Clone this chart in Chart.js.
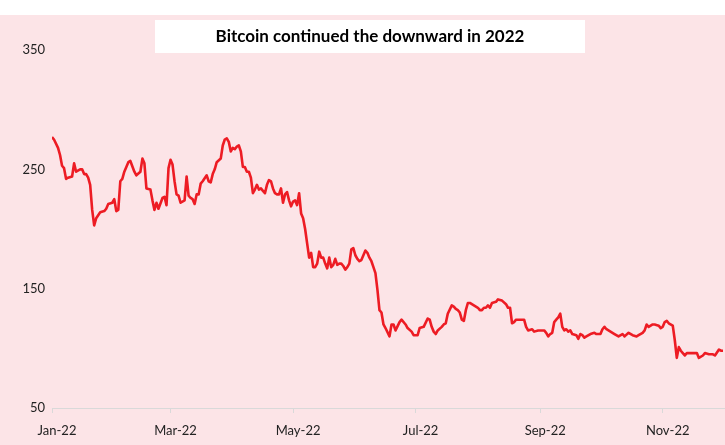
<!DOCTYPE html>
<html>
<head>
<meta charset="utf-8">
<script src="https://cdn.jsdelivr.net/npm/chart.js@4.4.1/dist/chart.umd.min.js"></script>
<style>
  body { margin: 0; background: #fff; }
  #chart { display: block; }
</style>
</head>
<body>
<canvas id="chart" width="725" height="445"></canvas>
<script>
const chartTitle = "Bitcoin continued the downward in 2022";

// tick positions on both axes
const tickDates = ["2022-01-01", "2022-03-01", "2022-05-01", "2022-07-01", "2022-09-01", "2022-11-01"];
const tickLabels = ["Jan-22", "Mar-22", "May-22", "Jul-22", "Sep-22", "Nov-22"];
const yTicks = [50, 150, 250, 350];

const dates = [
  "2022-01-01","2022-01-02","2022-01-04","2022-01-05","2022-01-06","2022-01-07","2022-01-08","2022-01-09","2022-01-11","2022-01-12",
  "2022-01-13","2022-01-15","2022-01-16","2022-01-17","2022-01-18","2022-01-19","2022-01-20","2022-01-21","2022-01-22","2022-01-23",
  "2022-01-25","2022-01-27","2022-01-28","2022-01-29","2022-01-31",
  "2022-02-01","2022-02-02","2022-02-03","2022-02-04","2022-02-05","2022-02-06","2022-02-08","2022-02-09","2022-02-11","2022-02-12",
  "2022-02-14","2022-02-15","2022-02-16","2022-02-17","2022-02-19","2022-02-20","2022-02-21","2022-02-22","2022-02-23","2022-02-25",
  "2022-02-26","2022-02-27","2022-02-28",
  "2022-03-01","2022-03-02","2022-03-03","2022-03-04","2022-03-05","2022-03-06","2022-03-08","2022-03-09","2022-03-10","2022-03-11",
  "2022-03-12","2022-03-13","2022-03-14","2022-03-15","2022-03-16","2022-03-17","2022-03-19","2022-03-20","2022-03-21","2022-03-22",
  "2022-03-23","2022-03-24","2022-03-26","2022-03-27","2022-03-28","2022-03-29","2022-03-30","2022-03-31",
  "2022-04-01","2022-04-02","2022-04-03","2022-04-04","2022-04-05","2022-04-06","2022-04-07","2022-04-08","2022-04-09","2022-04-10",
  "2022-04-11","2022-04-12","2022-04-13","2022-04-14","2022-04-15","2022-04-16","2022-04-17","2022-04-18","2022-04-19","2022-04-20",
  "2022-04-21","2022-04-22","2022-04-23","2022-04-24","2022-04-25","2022-04-26","2022-04-27","2022-04-28","2022-04-29","2022-04-30",
  "2022-05-01","2022-05-02","2022-05-03","2022-05-04","2022-05-05","2022-05-06","2022-05-07","2022-05-08","2022-05-09","2022-05-10",
  "2022-05-11","2022-05-12","2022-05-13","2022-05-14","2022-05-15","2022-05-16","2022-05-17","2022-05-18","2022-05-19","2022-05-20",
  "2022-05-21","2022-05-22","2022-05-23","2022-05-24","2022-05-25","2022-05-26","2022-05-27","2022-05-28","2022-05-29","2022-05-30",
  "2022-05-31",
  "2022-06-01","2022-06-02","2022-06-03","2022-06-04","2022-06-06","2022-06-07","2022-06-08","2022-06-09","2022-06-10","2022-06-11",
  "2022-06-12","2022-06-13","2022-06-14","2022-06-15","2022-06-16","2022-06-18","2022-06-19","2022-06-20","2022-06-21","2022-06-23",
  "2022-06-24","2022-06-26","2022-06-27","2022-06-29","2022-06-30",
  "2022-07-02","2022-07-03","2022-07-05","2022-07-07","2022-07-08","2022-07-09","2022-07-10","2022-07-11","2022-07-12","2022-07-14",
  "2022-07-15","2022-07-16","2022-07-17","2022-07-19","2022-07-20","2022-07-21","2022-07-22","2022-07-23","2022-07-24","2022-07-25",
  "2022-07-26","2022-07-27","2022-07-28","2022-07-30",
  "2022-08-01","2022-08-02","2022-08-03","2022-08-04","2022-08-05","2022-08-06","2022-08-07","2022-08-08","2022-08-10","2022-08-11",
  "2022-08-13","2022-08-15","2022-08-16","2022-08-17","2022-08-18","2022-08-19","2022-08-20","2022-08-21","2022-08-23","2022-08-24",
  "2022-08-25","2022-08-26","2022-08-28","2022-08-29","2022-08-31",
  "2022-09-01","2022-09-03","2022-09-04","2022-09-05","2022-09-06","2022-09-07","2022-09-08","2022-09-09","2022-09-10","2022-09-11",
  "2022-09-12","2022-09-13","2022-09-14","2022-09-15","2022-09-16","2022-09-17","2022-09-19","2022-09-20","2022-09-21","2022-09-22",
  "2022-09-23","2022-09-24","2022-09-26","2022-09-28","2022-09-29",
  "2022-10-01","2022-10-02","2022-10-03","2022-10-04","2022-10-06","2022-10-07","2022-10-08","2022-10-10","2022-10-12","2022-10-13",
  "2022-10-15","2022-10-17","2022-10-19","2022-10-20","2022-10-22","2022-10-23","2022-10-24","2022-10-25","2022-10-27","2022-10-28",
  "2022-10-30","2022-10-31",
  "2022-11-01","2022-11-02","2022-11-03","2022-11-04","2022-11-06","2022-11-07","2022-11-08","2022-11-09","2022-11-10","2022-11-11",
  "2022-11-12","2022-11-13","2022-11-15","2022-11-17","2022-11-18","2022-11-19","2022-11-21","2022-11-22","2022-11-24","2022-11-26",
  "2022-11-27","2022-11-29","2022-11-30","2022-12-01"
];

const prices = [
  277, 275, 268, 262, 253, 251, 242, 243, 244, 255,
  248, 250, 250, 246, 246, 243, 237, 216, 203, 209,
  214, 215, 217, 221, 222,
  225, 215, 216, 240, 242, 248, 256, 257, 248, 245,
  248, 259, 255, 234, 233, 224, 216, 222, 217, 226,
  227, 220, 251,
  258, 254, 240, 229, 228, 222, 224, 244, 228, 226,
  225, 221, 229, 229, 238, 240, 245, 240, 239, 246,
  250, 256, 259, 270, 275, 276, 273, 265,
  268, 267, 269, 270, 265, 252, 252, 248, 248, 243,
  230, 233, 237, 233, 234, 232, 230, 237, 241, 240,
  234, 230, 229, 229, 234, 222, 229, 231, 224, 219,
  223, 224, 220, 230, 213, 209, 200, 188, 176, 180,
  168, 168, 171, 181, 176, 176, 171, 167, 176, 168,
  170, 175, 170, 171, 171, 169, 166, 168, 171, 183,
  184,
  178, 175, 173, 174, 182, 180, 176, 173, 168, 163,
  149, 132, 130, 120, 117, 110, 120, 120, 115, 122,
  124, 120, 117, 114, 111,
  111, 117, 118, 125, 124, 118, 114, 112, 115, 118,
  120, 121, 129, 136, 135, 133, 132, 130, 124, 123,
  132, 138, 138, 136,
  134, 132, 132, 134, 134, 136, 134, 138, 139, 141,
  140, 137, 134, 134, 121, 122, 124, 124, 124, 124,
  118, 115, 116, 114, 115,
  115, 115, 113, 110, 112, 113, 122, 124, 126, 129,
  118, 115, 116, 114, 115, 112, 111, 108, 112, 111,
  109, 110, 112, 113, 112,
  112, 116, 118, 116, 114, 113, 112, 110, 112, 110,
  113, 111, 110, 111, 113, 115, 120, 118, 120, 120,
  119, 117,
  118, 122, 123, 121, 119, 107, 92, 101, 98, 96,
  94, 96, 96, 96, 96, 92, 94, 96, 95, 95,
  94, 99, 98, 98
];

// days since 1 Jan 2022, used as the x value
const dayOf = (iso) => {
  const [y, m, d] = iso.split("-").map(Number);
  return (Date.UTC(y, m - 1, d) - Date.UTC(2022, 0, 1)) / 86400000;
};

const points = dates.map((d, i) => ({ x: dayOf(d), y: prices[i] }));
const tickDays = tickDates.map(dayOf);

const FONT = "Lato, 'Open Sans', sans-serif";

// pink panel with a white strip above it, plus the boxed title
const panel = {
  id: "panel",
  beforeDraw(chart) {
    const ctx = chart.ctx;
    ctx.save();
    ctx.fillStyle = "#ffffff";
    ctx.fillRect(0, 0, chart.width, chart.height);
    ctx.fillStyle = "#fce4e7";
    ctx.fillRect(0, 15, chart.width, chart.height - 15);
    ctx.restore();
  },
  afterDraw(chart) {
    const ctx = chart.ctx;
    ctx.save();
    ctx.fillStyle = "#ffffff";
    ctx.fillRect(155, 20, 430, 33);
    ctx.fillStyle = "#000000";
    ctx.font = "bold 17px " + FONT;
    ctx.textAlign = "center";
    ctx.textBaseline = "middle";
    ctx.fillText(chartTitle, 370, 37);
    ctx.restore();
  }
};

new Chart(document.getElementById("chart"), {
  type: "line",
  data: {
    datasets: [{
      label: "Bitcoin",
      data: points,
      borderColor: "#ed1c24",
      borderWidth: 2.6,
      pointRadius: 0,
      fill: false,
      tension: 0,
      borderJoinStyle: "round"
    }]
  },
  options: {
    responsive: false,
    animation: false,
    layout: { padding: { top: 50, bottom: 0, left: 0, right: 0 } },
    plugins: {
      legend: { display: false },
      tooltip: { enabled: false }
    },
    scales: {
      x: {
        type: "linear",
        min: 0,
        max: 335,
        afterBuildTicks: (scale) => {
          scale.ticks = tickDays.map((v) => ({ value: v }));
        },
        afterFit: (scale) => { scale.height = 37; },
        ticks: {
          autoSkip: false,
          maxRotation: 0,
          padding: 10,
          labelOffset: 5,
          color: "#222",
          font: { family: FONT, size: 13 },
          callback: (value) => tickLabels[tickDays.indexOf(value)]
        },
        grid: {
          drawOnChartArea: false,
          drawTicks: true,
          tickLength: 5,
          color: "#d9d9d9"
        },
        border: { display: true, color: "#d9d9d9", width: 1 }
      },
      y: {
        min: 50,
        max: 350,
        afterBuildTicks: (scale) => {
          scale.ticks = yTicks.map((v) => ({ value: v }));
        },
        afterFit: (scale) => { scale.width = 52; },
        ticks: {
          padding: 7,
          color: "#222",
          font: { family: FONT, size: 13 }
        },
        grid: { display: false, drawTicks: false },
        border: { display: false }
      }
    }
  },
  plugins: [panel]
});
</script>
</body>
</html>
